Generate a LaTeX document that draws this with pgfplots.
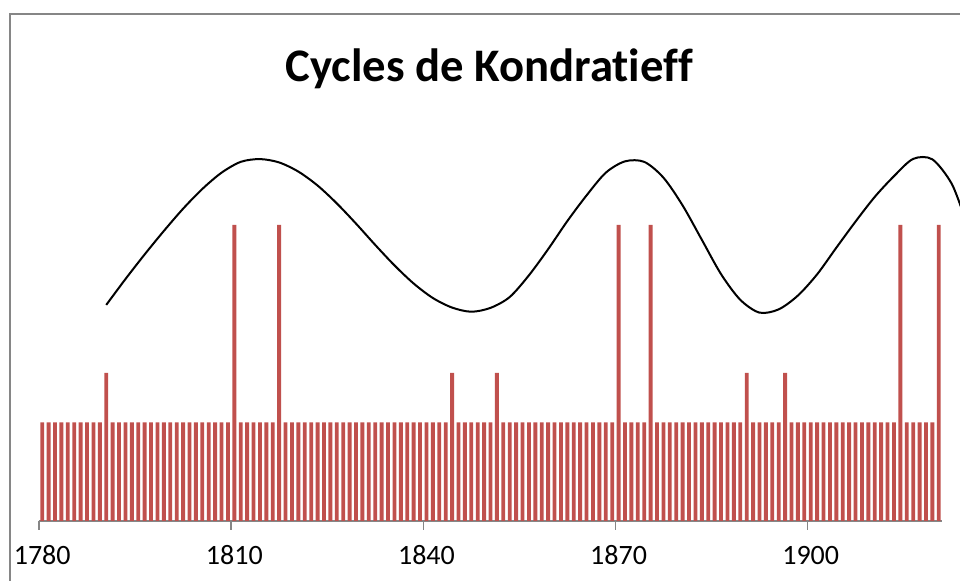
\documentclass[border=0pt]{standalone}
\usepackage{fontspec}
\setmainfont{Carlito}[Ligatures=NoCommon]
\usepackage{pgfplots}
\pgfplotsset{compat=1.18}
\definecolor{barred}{HTML}{C0504D}
\definecolor{framegray}{HTML}{868686}

\begin{document}
\begin{tikzpicture}
% picture = 960x581 px, 1 px = 0.75pt
\clip[use as bounding box] (0,0) rectangle (720pt,435.75pt);
\draw[framegray, line width=1.5pt] (7.125pt,-10pt) -- (7.125pt,425.6pt) -- (730pt,425.6pt);
\node[anchor=base, font=\fontsize{35}{35}\selectfont\bfseries] at (367pt,374.5pt) {Cycles de Kondratieff};
\begin{axis}[
    at={(29.25pt,45pt)}, anchor=south west,
    scale only axis,
    width=677.25pt, height=370pt,
    xmin=1779.5, xmax=1920.5,
    ymin=0, ymax=5,
    clip=false,
    axis x line*=bottom,
    axis y line=none,
    axis line style={framegray, line width=1pt},
    xtick={1780,1810,1840,1870,1900},
    major tick length=0pt,
    extra x ticks={1779.5,1809.5,1839.5,1869.5,1899.5},
    extra x tick labels={},
    extra x tick style={major tick length=6.75pt, tick align=outside,
        tick style={framegray, line width=1pt}},
    xticklabel style={anchor=base, yshift=-33pt, font=\fontsize{21}{21}\selectfont},
    /pgf/number format/assume math mode=true,
    /pgf/number format/1000 sep={},
]
\addplot[ybar, bar width=0.6, fill=barred, draw=none] table {
1780 1
1781 1
1782 1
1783 1
1784 1
1785 1
1786 1
1787 1
1788 1
1789 1
1790 1.5
1791 1
1792 1
1793 1
1794 1
1795 1
1796 1
1797 1
1798 1
1799 1
1800 1
1801 1
1802 1
1803 1
1804 1
1805 1
1806 1
1807 1
1808 1
1809 1
1810 3
1811 1
1812 1
1813 1
1814 1
1815 1
1816 1
1817 3
1818 1
1819 1
1820 1
1821 1
1822 1
1823 1
1824 1
1825 1
1826 1
1827 1
1828 1
1829 1
1830 1
1831 1
1832 1
1833 1
1834 1
1835 1
1836 1
1837 1
1838 1
1839 1
1840 1
1841 1
1842 1
1843 1
1844 1.5
1845 1
1846 1
1847 1
1848 1
1849 1
1850 1
1851 1.5
1852 1
1853 1
1854 1
1855 1
1856 1
1857 1
1858 1
1859 1
1860 1
1861 1
1862 1
1863 1
1864 1
1865 1
1866 1
1867 1
1868 1
1869 1
1870 3
1871 1
1872 1
1873 1
1874 1
1875 3
1876 1
1877 1
1878 1
1879 1
1880 1
1881 1
1882 1
1883 1
1884 1
1885 1
1886 1
1887 1
1888 1
1889 1
1890 1.5
1891 1
1892 1
1893 1
1894 1
1895 1
1896 1.5
1897 1
1898 1
1899 1
1900 1
1901 1
1902 1
1903 1
1904 1
1905 1
1906 1
1907 1
1908 1
1909 1
1910 1
1911 1
1912 1
1913 1
1914 3
1915 1
1916 1
1917 1
1918 1
1919 1
1920 3
};
% Kondratieff long-wave curve
\addplot[black, line width=1.5pt, smooth] coordinates {
(1790,2.190) (1793,2.452) (1796,2.702) (1799,2.940) (1802,3.165)
(1805,3.365) (1808,3.530) (1811,3.640) (1814,3.668) (1817,3.634)
(1820,3.541) (1823,3.400) (1826,3.219) (1829,3.014) (1832,2.798)
(1835,2.591) (1838,2.407) (1841,2.260) (1844,2.163) (1847,2.121)
(1850,2.160) (1853,2.270) (1856,2.490) (1859,2.755) (1862,3.040)
(1865,3.300) (1868,3.530) (1871,3.645) (1874,3.640) (1877,3.480)
(1880,3.198) (1883,2.850) (1886,2.502) (1889,2.242) (1892,2.112)
(1895,2.145) (1898,2.285) (1901,2.500) (1904,2.770) (1907,3.035)
(1910,3.285) (1913,3.495) (1916,3.670) (1919,3.665) (1922,3.420)
(1924,3.080)
};
\end{axis}
\end{tikzpicture}
\end{document}
